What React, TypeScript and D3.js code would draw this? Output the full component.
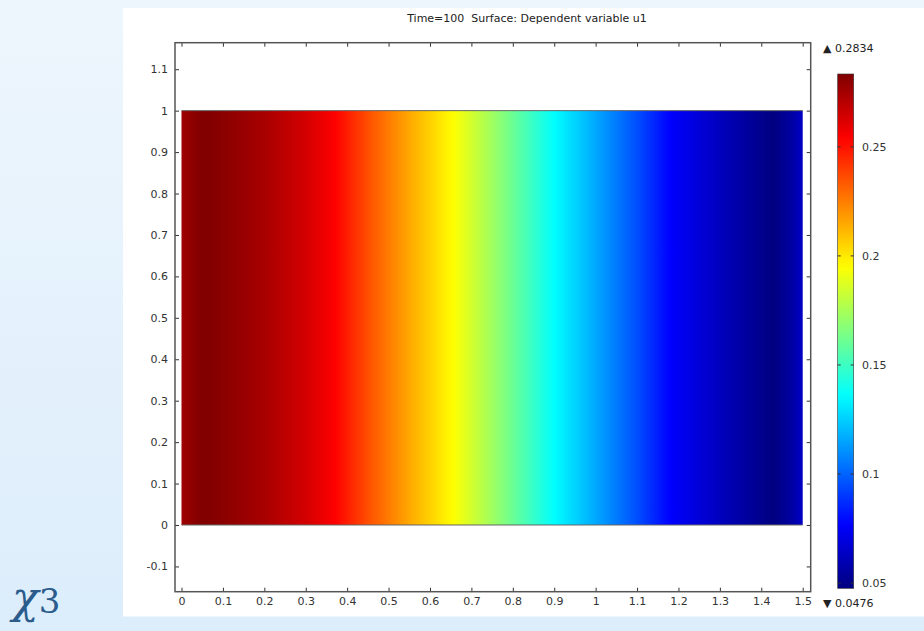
import React, { useEffect, useRef } from "react";
import * as d3 from "d3";

// profile of u1 along x at Time=100
const profileX = [0, 0.05, 0.1, 0.2, 0.3, 0.37, 0.45, 0.55, 0.656, 0.75, 0.9, 1.0, 1.1, 1.18, 1.3, 1.43, 1.47, 1.5];
const profileU = [0.276, 0.2834, 0.281, 0.274, 0.264, 0.254, 0.236, 0.215, 0.195, 0.173, 0.136, 0.116, 0.095, 0.077, 0.062, 0.0476, 0.055, 0.064];

const xTickLabels = ["0", "0.1", "0.2", "0.3", "0.4", "0.5", "0.6", "0.7", "0.8", "0.9", "1", "1.1", "1.2", "1.3", "1.4", "1.5"];
const yTickLabels = ["-0.1", "0", "0.1", "0.2", "0.3", "0.4", "0.5", "0.6", "0.7", "0.8", "0.9", "1", "1.1"];
const barTickLabels = ["0.05", "0.1", "0.15", "0.2", "0.25"];
const uMin = 0.0476;
const uMax = 0.2834;
const title = "Time=100  Surface: Dependent variable u1";

const W = 924;
const H = 631;
const FONT = "'DejaVu Sans', Verdana, sans-serif";

// jet colormap
const jet = (t: number) => {
  const c = (v: number) => Math.max(0, Math.min(1, v));
  const r = c(1.5 - Math.abs(4 * t - 3));
  const g = c(1.5 - Math.abs(4 * t - 2));
  const b = c(1.5 - Math.abs(4 * t - 1));
  return d3.rgb(r * 255, g * 255, b * 255).formatHex();
};

export default function App() {
  const svgRef = useRef<SVGSVGElement>(null);

  useEffect(() => {
    if (!svgRef.current) return;
    const svg = d3.select(svgRef.current);
    svg.selectAll("*").remove();

    const x = d3.scaleLinear().domain([-0.0157, 1.5193]).range([175, 810.7]);
    const y = d3.scaleLinear().domain([-0.161, 1.164]).range([591.7, 42.7]);
    const cNorm = d3.scaleLinear().domain([uMin, uMax]).range([0, 1]);
    const uAt = d3.scaleLinear().domain(profileX).range(profileU);
    const barY = d3.scaleLinear().domain([uMin, uMax]).range([588.3, 74]);

    const defs = svg.append("defs");
    const bg = defs.append("linearGradient").attr("id", "bg").attr("x1", 0).attr("x2", 0).attr("y1", 0).attr("y2", 1);
    bg.append("stop").attr("offset", "0%").attr("stop-color", "#eef6fd");
    bg.append("stop").attr("offset", "100%").attr("stop-color", "#dcedfb");

    // surface gradient, sampled along x
    const surf = defs.append("linearGradient").attr("id", "surf").attr("x1", 0).attr("x2", 1).attr("y1", 0).attr("y2", 0);
    d3.range(0, 1.5001, 0.01).forEach(v => {
      surf.append("stop")
        .attr("offset", `${(v / 1.5) * 100}%`)
        .attr("stop-color", jet(cNorm(uAt(v))));
    });

    const bar = defs.append("linearGradient").attr("id", "bar").attr("x1", 0).attr("x2", 0).attr("y1", 1).attr("y2", 0);
    d3.range(0, 1.0001, 0.02).forEach(t => {
      bar.append("stop").attr("offset", `${t * 100}%`).attr("stop-color", jet(t));
    });

    svg.append("rect").attr("width", W).attr("height", H).attr("fill", "url(#bg)");
    svg.append("rect").attr("x", 123).attr("y", 8).attr("width", W - 123).attr("height", 608.5).attr("fill", "#fff");

    svg.append("text")
      .attr("x", 12).attr("y", 613)
      .attr("font-family", "'DejaVu Serif', serif")
      .attr("font-size", 34)
      .attr("fill", "#2b5c8c")
      .html('<tspan font-style="italic" font-size="44">χ</tspan>3');

    svg.append("text")
      .attr("x", 527).attr("y", 22)
      .attr("text-anchor", "middle")
      .attr("font-family", FONT).attr("font-size", 11).attr("fill", "#222")
      .attr("xml:space", "preserve")
      .text(title);

    // surface
    svg.append("rect")
      .attr("x", x(0)).attr("y", y(1))
      .attr("width", x(1.5) - x(0)).attr("height", y(0) - y(1))
      .attr("fill", "url(#surf)");
    [0, 1].forEach(v => {
      svg.append("line")
        .attr("x1", x(0)).attr("x2", x(1.5)).attr("y1", y(v)).attr("y2", y(v))
        .attr("stroke", "#666").attr("stroke-width", 1);
    });

    const xVals = xTickLabels.map(Number);
    const yVals = yTickLabels.map(Number);
    const styleAxis = (g: any) => {
      g.select(".domain").remove();
      g.selectAll(".tick line").attr("stroke", "#333").attr("stroke-width", 1);
      g.selectAll(".tick text").attr("fill", "#333").attr("font-family", FONT).attr("font-size", 11);
    };

    svg.append("g").attr("transform", `translate(0,${y.range()[0]})`)
      .call(d3.axisBottom(x).tickValues(xVals).tickSize(-4).tickPadding(6).tickFormat((d, i) => xTickLabels[i]))
      .call(styleAxis);
    svg.append("g").attr("transform", `translate(0,${y.range()[1]})`)
      .call(d3.axisTop(x).tickValues(xVals).tickSize(-4).tickFormat(() => ""))
      .call(styleAxis);
    svg.append("g").attr("transform", `translate(${x.range()[0]},0)`)
      .call(d3.axisLeft(y).tickValues(yVals).tickSize(-4).tickPadding(7).tickFormat((d, i) => yTickLabels[i]))
      .call(styleAxis);
    svg.append("g").attr("transform", `translate(${x.range()[1]},0)`)
      .call(d3.axisRight(y).tickValues(yVals).tickSize(-4).tickFormat(() => ""))
      .call(styleAxis);

    svg.append("rect")
      .attr("x", x.range()[0]).attr("y", y.range()[1])
      .attr("width", x.range()[1] - x.range()[0]).attr("height", y.range()[0] - y.range()[1])
      .attr("fill", "none").attr("stroke", "#555").attr("stroke-width", 1.5);

    // colour legend
    const bx = 837.7, bw = 16;
    svg.append("rect")
      .attr("x", bx).attr("y", barY(uMax)).attr("width", bw).attr("height", barY(uMin) - barY(uMax))
      .attr("fill", "url(#bar)").attr("stroke", "#333").attr("stroke-width", 0.6);
    barTickLabels.forEach(s => {
      const v = +s;
      const yy = barY(v);
      svg.append("line").attr("x1", bx).attr("x2", bx + 3).attr("y1", yy).attr("y2", yy).attr("stroke", "#333");
      svg.append("line").attr("x1", bx + bw - 3).attr("x2", bx + bw).attr("y1", yy).attr("y2", yy).attr("stroke", "#333");
      svg.append("text")
        .attr("x", 862).attr("y", yy).attr("dy", "0.35em")
        .attr("font-family", FONT).attr("font-size", 11).attr("fill", "#333")
        .text(s);
    });
    svg.append("text").attr("x", 823).attr("y", 52)
      .attr("font-family", FONT).attr("font-size", 11).attr("fill", "#222")
      .text(`▲ ${uMax}`);
    svg.append("text").attr("x", 823).attr("y", 606.5)
      .attr("font-family", FONT).attr("font-size", 11).attr("fill", "#222")
      .text(`▼ ${uMin}`);
  }, []);

  return (
    <svg
      ref={svgRef}
      width={W}
      height={H}
      style={{ position: "absolute", left: 0, top: 0, display: "block" }}
    />
  );
}
